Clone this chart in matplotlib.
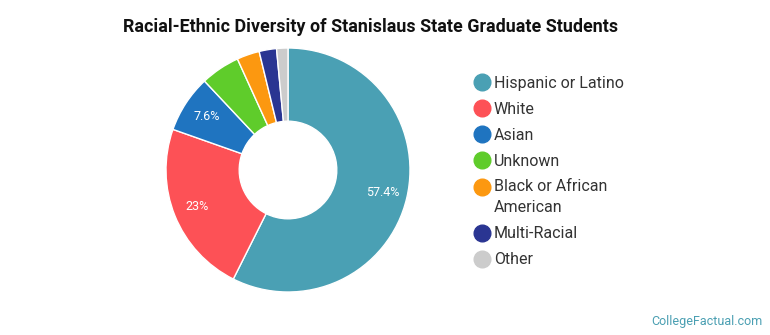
import matplotlib
matplotlib.use("Agg")
import matplotlib.pyplot as plt
import numpy as np
from matplotlib.lines import Line2D
from matplotlib.legend_handler import HandlerLine2D

plt.rcParams["font.family"] = ["Roboto", "DejaVu Sans"]

# data
groups = ["Hispanic or Latino", "White", "Asian", "Unknown",
          "Black or African\nAmerican", "Multi-Racial", "Other"]
shares = [57.4, 23.0, 7.6, 5.2, 3.0, 2.3, 1.5]
colors = ["#4aa0b4", "#fd5156", "#1f74c0", "#5fcc2b",
          "#fc9810", "#2a3592", "#cccccc"]


def pct_label(p):
    if p < 6:
        return ""
    return f"{p:.1f}".rstrip("0").rstrip(".") + "%"


class FirstLineHandler(HandlerLine2D):
    """Put the legend dot next to the first line of a wrapped label."""

    def __init__(self, shift, **kw):
        super().__init__(**kw)
        self.shift = shift

    def create_artists(self, legend, orig_handle, xdescent, ydescent,
                       width, height, fontsize, trans):
        arts = super().create_artists(legend, orig_handle, xdescent, ydescent,
                                      width, height, fontsize, trans)
        for a in arts:
            a.set_ydata(np.asarray(a.get_ydata(), dtype=float) + self.shift)
        return arts


fig = plt.figure(figsize=(7.7, 3.35), dpi=100)
ax = fig.add_axes([166 / 770, 43 / 335, 244 / 770, 244 / 335])

wedges, texts, autotexts = ax.pie(
    shares, colors=colors, startangle=90, counterclock=False,
    autopct=pct_label, pctdistance=0.8,
    wedgeprops=dict(width=0.6, edgecolor="white", linewidth=1),
    textprops=dict(color="white", fontsize=9),
)
ax.set_xlim(-1, 1)
ax.set_ylim(-1, 1)
ax.set_aspect("equal")

fig.text(371 / 770, 1 - 27 / 335,
         "Racial-Ethnic Diversity of Stanislaus State Graduate Students",
         ha="center", va="center", fontsize=12.9, fontweight="bold", color="#111111")

handles = [Line2D([], [], marker="o", linestyle="none", markersize=12,
                  markerfacecolor=c, markeredgecolor=c) for c in colors]
hmap = {h: FirstLineHandler(7.6) for h, g in zip(handles, groups) if "\n" in g}
leg = fig.legend(handles, groups, loc="upper left",
                 bbox_to_anchor=(466 / 770, 1 - 68 / 335),
                 frameon=False, fontsize=11.5, labelcolor="#333333",
                 handletextpad=0.25, labelspacing=0.68, borderpad=0,
                 handlelength=1.0, handler_map=hmap)
for t in leg.get_texts():
    t.set_linespacing(1.5)

fig.text(763 / 770, 1 - 321 / 335, "CollegeFactual.com",
         ha="right", va="center", fontsize=9, color="#4a9fb2")

fig.savefig("out.png", dpi=100)
